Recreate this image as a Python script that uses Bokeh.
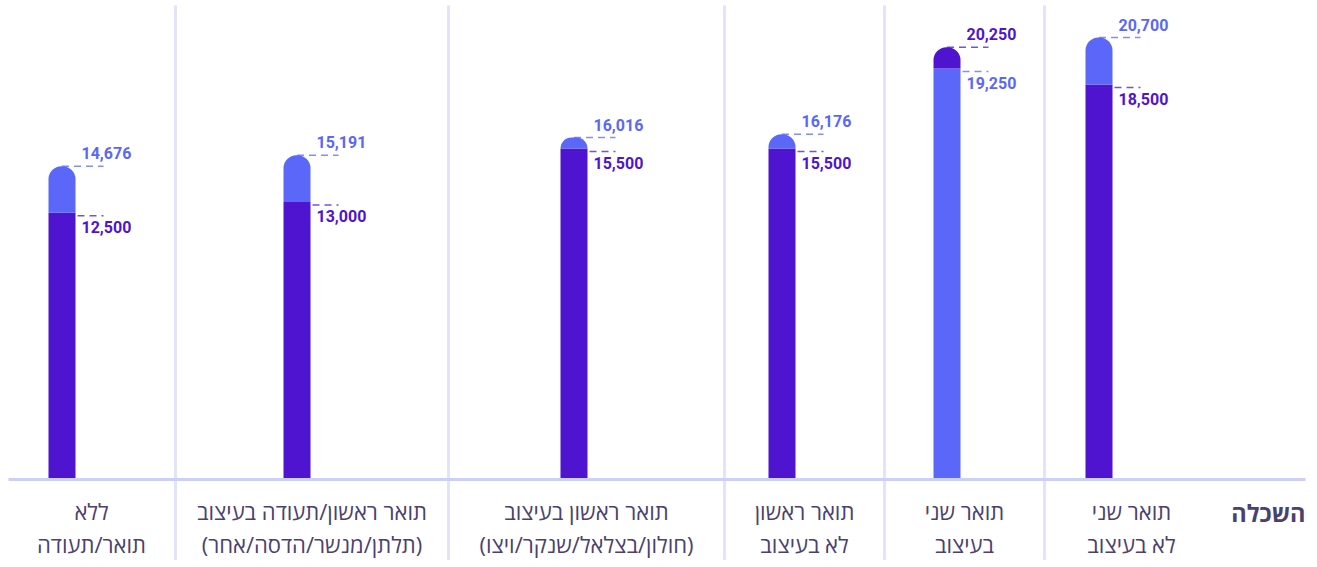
from bokeh.plotting import figure
from bokeh.models import ColumnDataSource, Range1d
from bokeh.embed import file_html
from bokeh.resources import INLINE
from bokeh.core.properties import value

# ---------------- data ----------------
categories = [
    "ללא\nתואר/תעודה",
    "תואר ראשון/תעודה בעיצוב\n(תלתן/מנשר/הדסה/אחר)",
    "תואר ראשון בעיצוב\n(חולון/בצלאל/שנקר/ויצו)",
    "תואר ראשון\nלא בעיצוב",
    "תואר שני\nבעיצוב",
    "תואר שני\nלא בעיצוב",
]
dark_values = [12500, 13000, 15500, 15500, 20250, 18500]
light_values = [14676, 15191, 16016, 16176, 19250, 20700]
axis_title = "השכלה"

# ---------------- layout / style ----------------
W, H = 1310, 560
col_widths = [175, 273, 276, 160, 160, 174]
bar_offsets = [48, 108, 112, 44, 49, 41]
bar_w = 27
K = 0.02135          # px per unit
base_px = 479        # px from top of figure to baseline
DARK = "#4F14D0"
LIGHT = "#5B67F8"
TEXT = "#4B4170"
SEP = "#E2E4FC"
AXIS = "#CBCFFA"

px = 1.0 / K  # one pixel in y data units

lefts = []
acc = 0
for w in col_widths:
    lefts.append(acc)
    acc += w
centers = [l + w / 2 for l, w in zip(lefts, col_widths)]
centers[0] = 91
bar_x = [l + o + bar_w / 2 for l, o in zip(lefts, bar_offsets)]
bar_right = [x + bar_w / 2 for x in bar_x]

lower = [min(d, l) for d, l in zip(dark_values, light_values)]
upper = [max(d, l) for d, l in zip(dark_values, light_values)]
lower_col = [DARK if d <= l else LIGHT for d, l in zip(dark_values, light_values)]
upper_col = [LIGHT if d <= l else DARK for d, l in zip(dark_values, light_values)]

p = figure(width=W, height=H, output_backend="svg", toolbar_location=None,
           x_range=Range1d(0, W), y_range=Range1d(-(H - base_px) * px, base_px * px),
           x_axis_type=None, y_axis_type=None, min_border=0)
p.outline_line_color = None
p.xgrid.visible = False
p.ygrid.visible = False
p.background_fill_color = "white"

# separators
sep_x = [l for l in lefts[1:]]
p.segment(x0=sep_x, x1=sep_x, y0=[-(H - base_px) * px] * len(sep_x),
          y1=[(base_px - 5) * px] * len(sep_x), line_color=SEP, line_width=3)

src = ColumnDataSource(dict(x=bar_x, lower=lower, upper=upper,
                            lc=lower_col, uc=upper_col,
                            zero=[0] * len(bar_x)))
p.vbar(x="x", width=bar_w, bottom="zero", top="lower", fill_color="lc",
       line_color=None, source=src)
p.vbar(x="x", width=bar_w, bottom="lower", top="upper", fill_color="uc",
       line_color=None, source=src, border_radius=(13, 13, 0, 0))

# axis line
p.segment(x0=[8], x1=[1305], y0=[0], y1=[0], line_color=AXIS, line_width=3)

# dashed guide lines
p.segment(x0=bar_x, x1=[r + 28 for r in bar_right], y0=upper, y1=upper,
          line_color=upper_col, line_alpha=0.75, line_width=1.5, line_dash="7 5")
lo_y = [v - 3 * px for v in lower]
p.segment(x0=[r + 2 for r in bar_right], x1=[r + 28 for r in bar_right],
          y0=lo_y, y1=lo_y, line_color=lower_col, line_alpha=0.75,
          line_width=1.5, line_dash="7 5")

# value labels
p.text(x=[r + 6 for r in bar_right], y=upper, text=[f"{v:,}" for v in upper],
       text_color=upper_col, text_font=value("Roboto"), text_font_style="bold",
       text_font_size="16px", text_baseline="alphabetic", y_offset=-13)
p.text(x=[r + 6 for r in bar_right], y=lower, text=[f"{v:,}" for v in lower],
       text_color=lower_col, text_font=value("Roboto"), text_font_style="bold",
       text_font_size="16px", text_baseline="alphabetic", y_offset=14)

# category labels
line1 = [c.split("\n")[0] for c in categories]
line2 = [c.split("\n")[1] for c in categories]
p.text(x=centers, y=[0] * len(centers), text=line1, text_align="center",
       text_baseline="middle", y_offset=31, text_color=TEXT,
       text_font=value("Open Sans"), text_font_size="22px")
p.text(x=centers, y=[0] * len(centers), text=line2, text_align="center",
       text_baseline="middle", y_offset=64, text_color=TEXT,
       text_font=value("Open Sans"), text_font_size="22px")
p.text(x=[1305], y=[0], text=[axis_title], text_align="right",
       text_baseline="middle", y_offset=33, text_color=TEXT,
       text_font=value("Open Sans"), text_font_style="bold", text_font_size="23.5px")

open("out.html", "w").write(file_html(p, INLINE))
